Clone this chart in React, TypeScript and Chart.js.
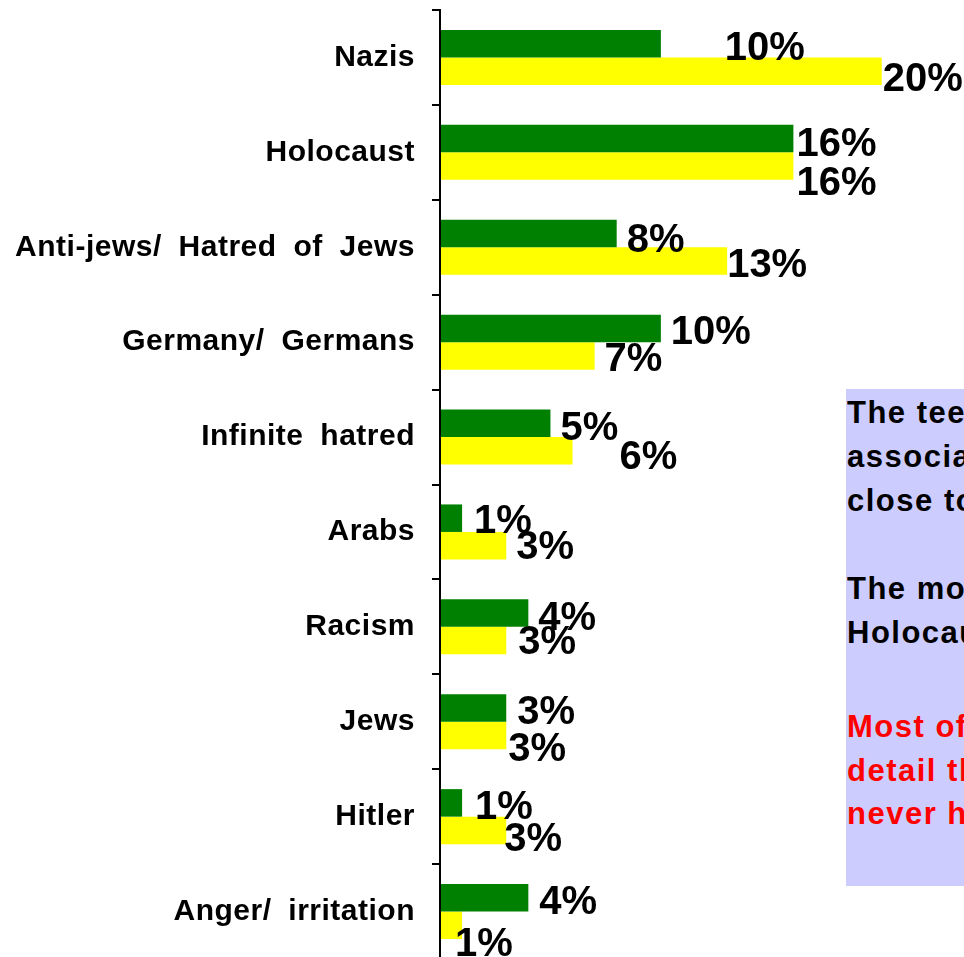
import React, { useEffect, useRef } from "react";
import { Chart, registerables } from "chart.js";

Chart.register(...registerables);

// ---- data ----
const categories = [
  "Nazis",
  "Holocaust",
  "Anti-jews/ Hatred of Jews",
  "Germany/ Germans",
  "Infinite hatred",
  "Arabs",
  "Racism",
  "Jews",
  "Hitler",
  "Anger/ irritation",
];
const greenValues = [10, 16, 8, 10, 5, 1, 4, 3, 1, 4];
const yellowValues = [20, 16, 13, 7, 6, 3, 3, 3, 3, 1];
const valueAxisMax = 23;

// ---- label nudges (annotation styling, px) ----
const greenLabelDx = [64, 3, 10, 10, 10, 12, 10, 11, 13, 11];
const greenLabelDy = [2, 3, 4, 1, 2, 1, 3, 2, 2, 2];
const yellowLabelDx = [1, 3, 0, 10, 47, 10, 12, 2, -2, -7];
const yellowLabelDy = [5, 15, 2, 1, 4, -1, -1, 11, 6, 16];

// ---- note text ----
const noteBlack1 = ["The teenagers' first", "associations are very", "close to those of adults"];
const noteBlack2 = ["The most common are Nazis and", "Holocaust"];
const noteRed = ["Most of them cannot explain in", "detail the Holocaust, some", "never heard of it"];

const FONT = "'Liberation Sans', Arial, Helvetica, sans-serif";

export default function App() {
  const ref = useRef<HTMLCanvasElement>(null);

  useEffect(() => {
    const canvas = ref.current;
    if (!canvas) return;

    const valueLabels = {
      id: "valueLabels",
      beforeDraw(chart: any) {
        chart.ctx.letterSpacing = "0.5px";
        chart.ctx.wordSpacing = "8px";
      },
      afterDatasetsDraw(chart: any) {
        const ctx = chart.ctx;
        ctx.save();
        ctx.letterSpacing = "0px";
        ctx.wordSpacing = "0px";
        ctx.font = `bold 40px ${FONT}`;
        ctx.fillStyle = "#000000";
        ctx.textAlign = "left";
        ctx.textBaseline = "alphabetic";
        const sets: [number[], number[], number[]][] = [
          [greenValues, greenLabelDx, greenLabelDy],
          [yellowValues, yellowLabelDx, yellowLabelDy],
        ];
        sets.forEach(([vals, dx, dy], di) => {
          const meta = chart.getDatasetMeta(di);
          meta.data.forEach((el: any, i: number) => {
            ctx.fillText(`${vals[i]}%`, el.x + dx[i], el.y + dy[i] + 14.3);
          });
        });
        ctx.restore();
      },
      afterDraw(chart: any) {
        chart.ctx.letterSpacing = "0px";
        chart.ctx.wordSpacing = "0px";
      },
    };

    const chart = new Chart(canvas, {
      type: "bar",
      data: {
        labels: categories,
        datasets: [
          {
            data: greenValues,
            backgroundColor: "#008000",
            borderWidth: 0,
            categoryPercentage: 0.58,
            barPercentage: 1,
          },
          {
            data: yellowValues,
            backgroundColor: "#FFFF00",
            borderWidth: 0,
            categoryPercentage: 0.58,
            barPercentage: 1,
          },
        ],
      },
      options: {
        indexAxis: "y",
        responsive: false,
        animation: false,
        devicePixelRatio: 1,
        layout: { padding: { top: 10, bottom: 11, left: 0, right: 16 } },
        plugins: {
          legend: { display: false },
          tooltip: { enabled: false },
        },
        scales: {
          x: { display: false, min: 0, max: valueAxisMax },
          y: {
            afterFit(scale: any) {
              scale.width = 440;
              scale.paddingTop = 0;
              scale.paddingBottom = 0;
            },
            grid: {
              display: true,
              drawOnChartArea: false,
              drawTicks: true,
              tickLength: 8,
              color: "#000000",
              lineWidth: 2,
              offset: true,
            },
            border: { display: true, color: "#000000", width: 2, z: 1 },
            ticks: {
              color: "#000000",
              font: { family: FONT, size: 30, weight: "bold" },
              padding: 17,
              autoSkip: false,
            },
          },
        },
      } as any,
      plugins: [valueLabels],
    });

    return () => chart.destroy();
  }, []);

  const textStyle: React.CSSProperties = {
    position: "absolute",
    left: 847,
    whiteSpace: "nowrap",
    fontFamily: FONT,
    fontWeight: "bold",
    fontSize: 31,
    letterSpacing: "1.5px",
    lineHeight: "44px",
  };

  return (
    <div
      style={{
        position: "fixed",
        left: 0,
        top: 0,
        width: 964,
        height: 957,
        overflow: "hidden",
        background: "#ffffff",
      }}
    >
      <canvas ref={ref} width={964} height={970} style={{ display: "block", position: "absolute", left: 0, top: 0 }} />
      <div
        style={{
          position: "absolute",
          left: 846,
          top: 389,
          width: 400,
          height: 497,
          background: "#CCCCFF",
        }}
      />
      <div style={{ ...textStyle, top: 391, color: "#000000" }}>
        {noteBlack1.map((l, i) => (
          <div key={i}>{l}</div>
        ))}
      </div>
      <div style={{ ...textStyle, top: 567, color: "#000000" }}>
        {noteBlack2.map((l, i) => (
          <div key={i}>{l}</div>
        ))}
      </div>
      <div style={{ ...textStyle, top: 705, color: "#FF0000", lineHeight: "43.5px" }}>
        {noteRed.map((l, i) => (
          <div key={i}>{l}</div>
        ))}
      </div>
    </div>
  );
}
